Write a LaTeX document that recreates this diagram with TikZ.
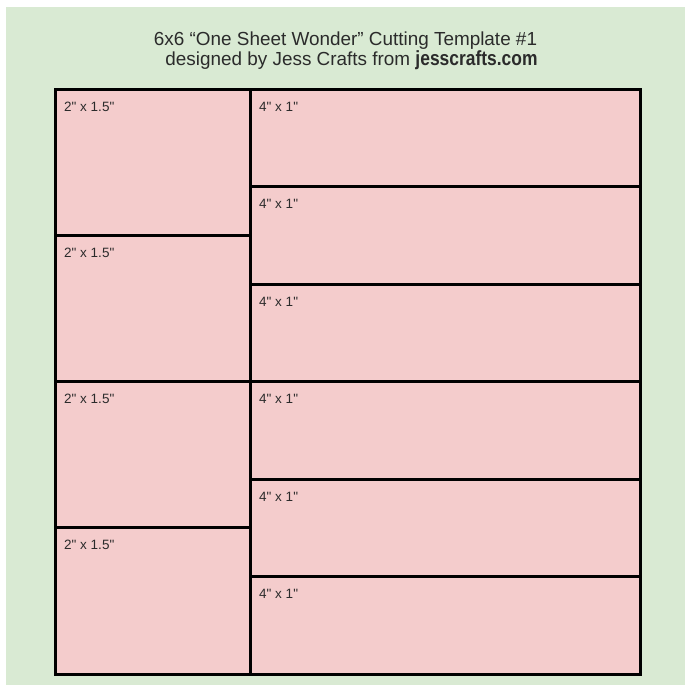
\documentclass[tikz,border=0pt]{standalone}
\usepackage{fontspec}
\setmainfont{Liberation Sans}
\newfontfamily\labfont{Liberation Sans}
\newfontfamily\condfont[FakeStretch=0.85]{Liberation Sans Bold}
\definecolor{bggreen}{HTML}{D9EAD3}
\definecolor{pinkcell}{HTML}{F4CCCC}
\definecolor{inktext}{HTML}{2B2B2B}
\tikzset{
  cell/.style={draw=black, fill=pinkcell, line width=3pt, rectangle, inner sep=0pt, outer sep=0pt, anchor=north west},
  lab/.style={anchor=base west, inner sep=0pt, text=inktext, font=\labfont\fontsize{13.5}{16}\selectfont},
  ttl/.style={anchor=base, inner sep=0pt, text=inktext, font=\fontsize{18.9}{22}\selectfont}
}
\begin{document}
\begin{tikzpicture}[x=1pt,y=-1pt]
\useasboundingbox (0,0) rectangle (685,685);
\fill[white] (0,0) rectangle (685,685);
\fill[bggreen] (6,7) rectangle (685,685);
\node[ttl] (t1) at (345.5,45.5) {6x6 “One Sheet Wonder” Cutting Template \#1};
\node[ttl] (t2) at (351.5,65.5) {designed by Jess Crafts from {\condfont\fontsize{20.5}{21}\selectfont jesscrafts.com}};
% left column
\foreach \i in {0,1,2,3}{
  \node[cell, minimum width=195pt, minimum height=146.25pt] (l\i) at (55,{89+146.25*\i}) {};
  \node[lab] (ll\i) at ([shift={(9,22)}]l\i.north west) {2" x 1.5"};
}
% right column
\foreach \i in {0,...,5}{
  \node[cell, minimum width=390pt, minimum height=97.5pt] (r\i) at (250,{89+97.5*\i}) {};
  \node[lab] (rl\i) at ([shift={(9,22)}]r\i.north west) {4" x 1"};
}
\end{tikzpicture}
\end{document}
